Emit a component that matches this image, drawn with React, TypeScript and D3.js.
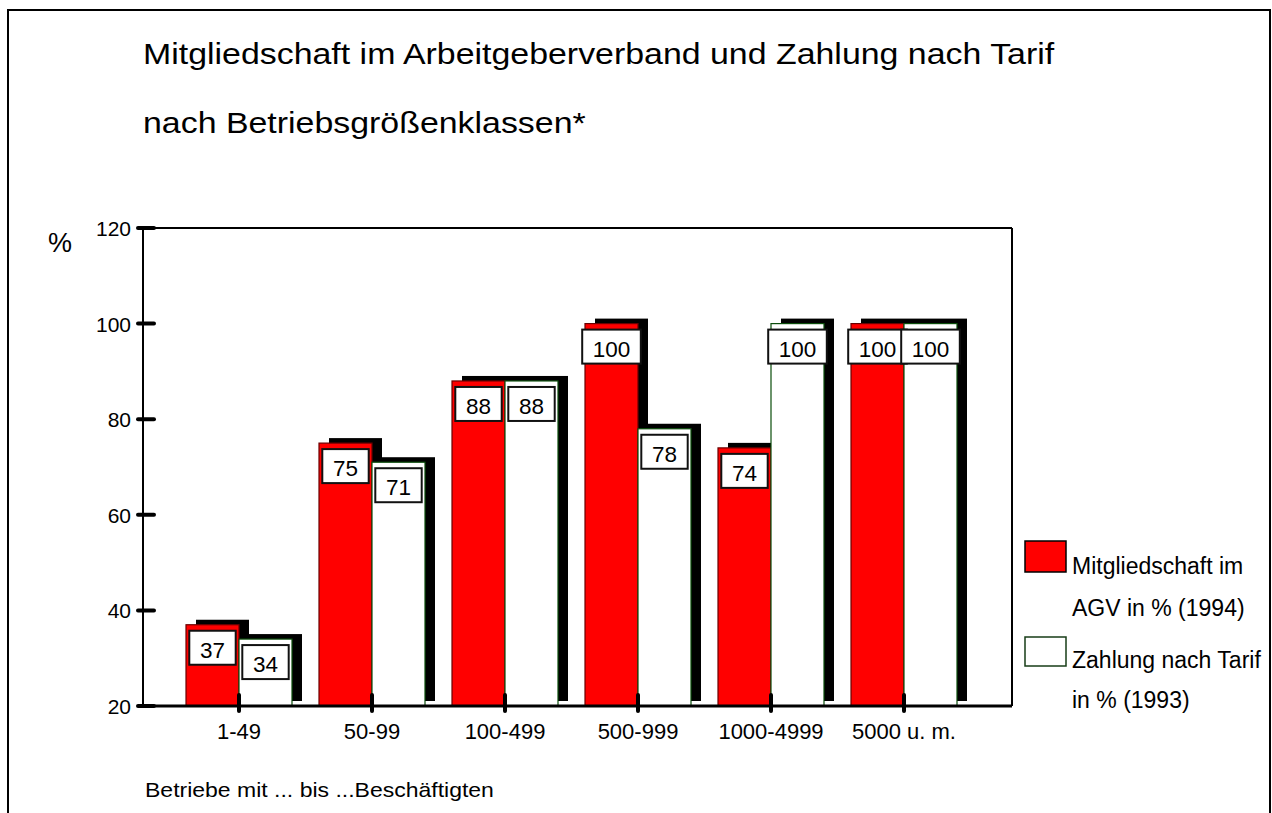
import React from 'react';
import * as d3 from 'd3';

// Betriebsgrößenklassen und Anteile in %
const categories = ['1-49', '50-99', '100-499', '500-999', '1000-4999', '5000 u. m.'];
const mitgliedschaft = [37, 75, 88, 100, 74, 100];
const tarif = [34, 71, 88, 78, 100, 100];
const yTicks = [20, 40, 60, 80, 100, 120];
const seriesKeys = ['m', 'z'];

const FONT = '"Liberation Sans", Arial, sans-serif';
const RED = '#ff0000';

export default function App() {
  const width = 1272;
  const height = 813;
  const plot = {left: 143, right: 1012, top: 228, bottom: 706};

  const y = d3.scaleLinear().domain([20, 120]).range([plot.bottom, plot.top]);
  const x = d3.scaleBand<string>().domain(categories).range([172.5, 970.5]).paddingInner(0);
  const bw = x.bandwidth();
  const sub = d3.scaleBand<string>().domain(seriesKeys).range([13.5, bw - 13.5]);
  const barW = sub.bandwidth();
  const shadow = {dx: 10, dy: -5};

  const bars = categories.flatMap((c, i) => [
    {key: 'm', cat: c, v: mitgliedschaft[i], x: (x(c) ?? 0) + (sub('m') ?? 0)},
    {key: 'z', cat: c, v: tarif[i], x: (x(c) ?? 0) + (sub('z') ?? 0)}
  ]);

  const txt = (sx: number, px: number, py: number) => `translate(${px},${py}) scale(${sx},1)`;

  return (
    <svg width={width} height={height} style={{position: 'absolute', left: 0, top: 0, background: '#fff'}}
      fontFamily={FONT}>
      <rect x={8} y={10} width={1262} height={900} fill="#fff" stroke="#000" strokeWidth={2} />

      {/* Titel */}
      <text transform={txt(1.13, 143, 64)} fontSize={30} fill="#000">
        Mitgliedschaft im Arbeitgeberverband und Zahlung nach Tarif
      </text>
      <text transform={txt(1.13, 143, 133)} fontSize={30} fill="#000">
        nach Betriebsgrößenklassen*
      </text>

      {/* Rahmen des Plotbereichs */}
      <line x1={plot.left} x2={plot.right} y1={plot.top} y2={plot.top} stroke="#000" strokeWidth={2} />
      <line x1={plot.right} x2={plot.right} y1={plot.top} y2={plot.bottom} stroke="#000" strokeWidth={2} />

      {/* Schatten */}
      {bars.map((b, i) => (
        <rect key={'s' + i} x={b.x + shadow.dx} y={y(b.v) + shadow.dy} width={barW}
          height={plot.bottom - y(b.v)} fill="#000" />
      ))}
      {/* Balken */}
      {bars.map((b, i) => (
        <rect key={'b' + i} x={b.x} y={y(b.v)} width={barW} height={plot.bottom - y(b.v)}
          fill={b.key === 'm' ? RED : '#fff'} stroke={b.key === 'm' ? '#6a0000' : '#0b4d0b'} strokeWidth={1.2} />
      ))}
      {/* Wertelabels */}
      {bars.map((b, i) => {
        const label = String(b.v);
        const w = label.length * 12.2 + 22;
        const cx = b.x + barW / 2;
        const top = y(b.v) + 6;
        return (
          <g key={'l' + i}>
            <rect x={cx - w / 2} y={top} width={w} height={34} fill="#fff" stroke="#111" strokeWidth={2} />
            <text x={cx} y={top + 27} textAnchor="middle" fontSize={22.5} fill="#000">{label}</text>
          </g>
        );
      })}

      {/* Achsen */}
      <line x1={plot.left} x2={plot.left} y1={plot.top} y2={plot.bottom} stroke="#000" strokeWidth={2} />
      <line x1={plot.left} x2={plot.right} y1={plot.bottom} y2={plot.bottom} stroke="#000" strokeWidth={3} />
      {yTicks.map(t => (
        <g key={'yt' + t}>
          <line x1={138} x2={154} y1={y(t)} y2={y(t)} stroke="#000" strokeWidth={4} strokeLinecap="round" />
          <text x={131} y={y(t) + 8} textAnchor="end" fontSize={21} fill="#000">{t}</text>
        </g>
      ))}
      {categories.map(c => {
        const cx = (x(c) ?? 0) + bw / 2;
        return (
          <g key={'xt' + c}>
            <line x1={cx} x2={cx} y1={695} y2={711} stroke="#000" strokeWidth={4} strokeLinecap="round" />
            <text x={cx} y={739} textAnchor="middle" fontSize={22} fill="#000">{c}</text>
          </g>
        );
      })}
      <text x={48} y={252} fontSize={27} fill="#000">%</text>
      <text transform={txt(1.15, 145, 797)} fontSize={20} fill="#000">Betriebe mit ... bis ...Beschäftigten</text>

      {/* Legende */}
      <rect x={1025} y={541} width={41} height={31} fill={RED} stroke="#000" strokeWidth={1.5} />
      <text x={1072} y={574} fontSize={23} fill="#000">Mitgliedschaft im</text>
      <text x={1072} y={616} fontSize={23} fill="#000">AGV in % (1994)</text>
      <rect x={1025} y={637} width={41} height={29} fill="#fff" stroke="#173d17" strokeWidth={1.5} />
      <text x={1072} y={668} fontSize={23} fill="#000">Zahlung nach Tarif</text>
      <text x={1072} y={708} fontSize={23} fill="#000">in % (1993)</text>
    </svg>
  );
}
